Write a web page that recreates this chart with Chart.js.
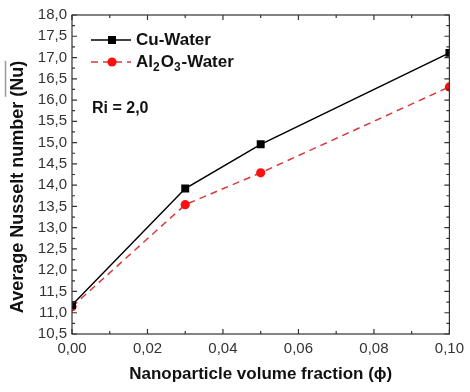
<!DOCTYPE html>
<html>
<head>
<meta charset="utf-8">
<script src="https://cdn.jsdelivr.net/npm/chart.js@4"></script>
<style>
  html, body { margin: 0; padding: 0; background: #fff; }
  #wrap { width: 470px; height: 392px; }
</style>
</head>
<body>
<div id="wrap"><canvas id="nusselt"></canvas></div>
<script>
// Values
const fractions = [0, 0.03, 0.05, 0.10];
const cuWater = [11.18, 13.92, 14.96, 17.11];
const al2o3Water = [11.14, 13.54, 14.29, 16.31];
const xTicks = [0, 0.02, 0.04, 0.06, 0.08, 0.10];
const yRange = [10.5, 18.0];
const riLabel = "Ri = 2,0";
const xTitle = "Nanoparticle volume fraction (\u03d5)";
const yTitle = "Average Nusselt number ";
const yTitleBar = "(Nu)";

const FONT = '"Liberation Sans", Arial, sans-serif';
const comma = (v, d) => v.toFixed(d).replace(".", ",");

// frame, inward ticks, legend with subscripts, titles
const decorations = {
  id: "decorations",
  afterDatasetsDraw(chart) {
    const ctx = chart.ctx;
    const a = chart.chartArea;
    const xs = chart.scales.x, ys = chart.scales.y;
    ctx.save();
    ctx.strokeStyle = "#333";
    ctx.lineWidth = 1.2;
    ctx.strokeRect(a.left, a.top, a.right - a.left, a.bottom - a.top);

    // x ticks (bottom + top), minor in between
    const xv = xs.ticks.map(t => t.value);
    const drawX = (v, len) => {
      const px = xs.getPixelForValue(v);
      ctx.beginPath();
      ctx.moveTo(px, a.bottom); ctx.lineTo(px, a.bottom - len);
      ctx.moveTo(px, a.top); ctx.lineTo(px, a.top + len);
      ctx.stroke();
    };
    xv.forEach((v, i) => {
      drawX(v, 5);
      if (i < xv.length - 1) drawX((v + xv[i + 1]) / 2, 3);
    });
    const yv = ys.ticks.map(t => t.value);
    const drawY = (v, len) => {
      const py = ys.getPixelForValue(v);
      ctx.beginPath();
      ctx.moveTo(a.left, py); ctx.lineTo(a.left + len, py);
      ctx.moveTo(a.right, py); ctx.lineTo(a.right - len, py);
      ctx.stroke();
    };
    yv.forEach((v, i) => {
      drawY(v, 5);
      if (i < yv.length - 1) drawY((v + yv[i + 1]) / 2, 3);
    });

    // legend
    const lx0 = a.left + 19, lx1 = a.left + 59, mx = a.left + 40;
    ctx.lineWidth = 1.5;
    ctx.strokeStyle = "#000";
    ctx.beginPath(); ctx.moveTo(lx0, 40); ctx.lineTo(lx1, 40); ctx.stroke();
    Chart.helpers.drawPoint(ctx, { pointStyle: "rect", radius: 5.6, borderWidth: 0 }, mx, 40);
    ctx.fillStyle = "#000";
    ctx.fill();
    ctx.strokeStyle = "#d83a3a";
    ctx.setLineDash([7, 5]);
    ctx.beginPath(); ctx.moveTo(lx0, 62); ctx.lineTo(lx1, 62); ctx.stroke();
    ctx.setLineDash([]);
    ctx.fillStyle = "#ff1010";
    ctx.beginPath(); ctx.arc(mx, 62, 4.6, 0, Math.PI * 2); ctx.fill();

    ctx.fillStyle = "#111";
    ctx.textBaseline = "middle";
    ctx.textAlign = "left";
    const big = "bold 17px " + FONT, small = "bold 12px " + FONT;
    ctx.font = big;
    ctx.fillText("Cu-Water", a.left + 64, 40);
    let tx = a.left + 64;
    const parts = [["Al", 0], ["2", 1], ["O", 0], ["3", 1], ["-Water", 0]];
    parts.forEach(([s, sub]) => {
      ctx.font = sub ? small : big;
      ctx.fillText(s, tx, sub ? 68 : 62);
      tx += ctx.measureText(s).width + (sub ? 1 : 0);
    });
    ctx.font = "bold 16px " + FONT;
    ctx.fillText(riLabel, a.left + 20, 109);

    // x title
    ctx.font = "bold 17px " + FONT;
    ctx.textAlign = "center";
    ctx.fillText(xTitle, (a.left + a.right) / 2, 374);

    // y title with overline on (Nu)
    ctx.font = "bold 18px " + FONT;
    ctx.translate(18, 187);
    ctx.rotate(-Math.PI / 2);
    const w1 = ctx.measureText(yTitle).width;
    const w2 = ctx.measureText(yTitleBar).width;
    const start = -(w1 + w2) / 2;
    ctx.textAlign = "left";
    ctx.fillText(yTitle, start, 0);
    ctx.fillText(yTitleBar, start + w1, 0);
    ctx.strokeStyle = "#999";
    ctx.lineWidth = 1.5;
    ctx.beginPath();
    ctx.moveTo(start + w1, -12.5); ctx.lineTo(start + w1 + w2, -12.5);
    ctx.stroke();
    ctx.restore();
  }
};

new Chart(document.getElementById("nusselt"), {
  type: "line",
  data: {
    datasets: [
      {
        label: "Cu-Water",
        data: fractions.map((x, i) => ({ x: x, y: cuWater[i] })),
        borderColor: "#000",
        backgroundColor: "#000",
        borderWidth: 1.5,
        pointStyle: "rect",
        pointRadius: 5.6,
        pointBorderWidth: 0,
        tension: 0,
        clip: 0,
      },
      {
        label: "Al2O3-Water",
        data: fractions.map((x, i) => ({ x: x, y: al2o3Water[i] })),
        borderColor: "#d83a3a",
        backgroundColor: "#ff1010",
        borderWidth: 1.5,
        borderDash: [7, 5],
        pointStyle: "circle",
        pointRadius: 4.6,
        pointBorderWidth: 0,
        tension: 0,
        clip: 0,
      },
    ],
  },
  options: {
    animation: false,
    responsive: true,
    maintainAspectRatio: false,
    layout: { padding: { top: 15, right: 16, left: 0, bottom: 0 } },
    plugins: {
      legend: { display: false },
      tooltip: { enabled: false },
    },
    scales: {
      x: {
        type: "linear",
        min: xTicks[0],
        max: xTicks[xTicks.length - 1],
        afterBuildTicks: (s) => { s.ticks = xTicks.map(v => ({ value: v })); },
        afterFit: (s) => { s.height = 58; },
        ticks: {
          font: { family: FONT, size: 15 },
          color: "#333",
          padding: 6,
          maxRotation: 0,
          callback: (v) => comma(v, 2),
        },
        grid: { display: false, drawTicks: false },
        border: { display: false },
      },
      y: {
        min: yRange[0],
        max: yRange[1],
        afterFit: (s) => { s.width = 72; },
        ticks: {
          stepSize: 0.5,
          font: { family: FONT, size: 15 },
          color: "#333",
          padding: 5,
          callback: (v) => comma(v, 1),
        },
        grid: { display: false, drawTicks: false },
        border: { display: false },
      },
    },
  },
  plugins: [decorations],
});
</script>
</body>
</html>
